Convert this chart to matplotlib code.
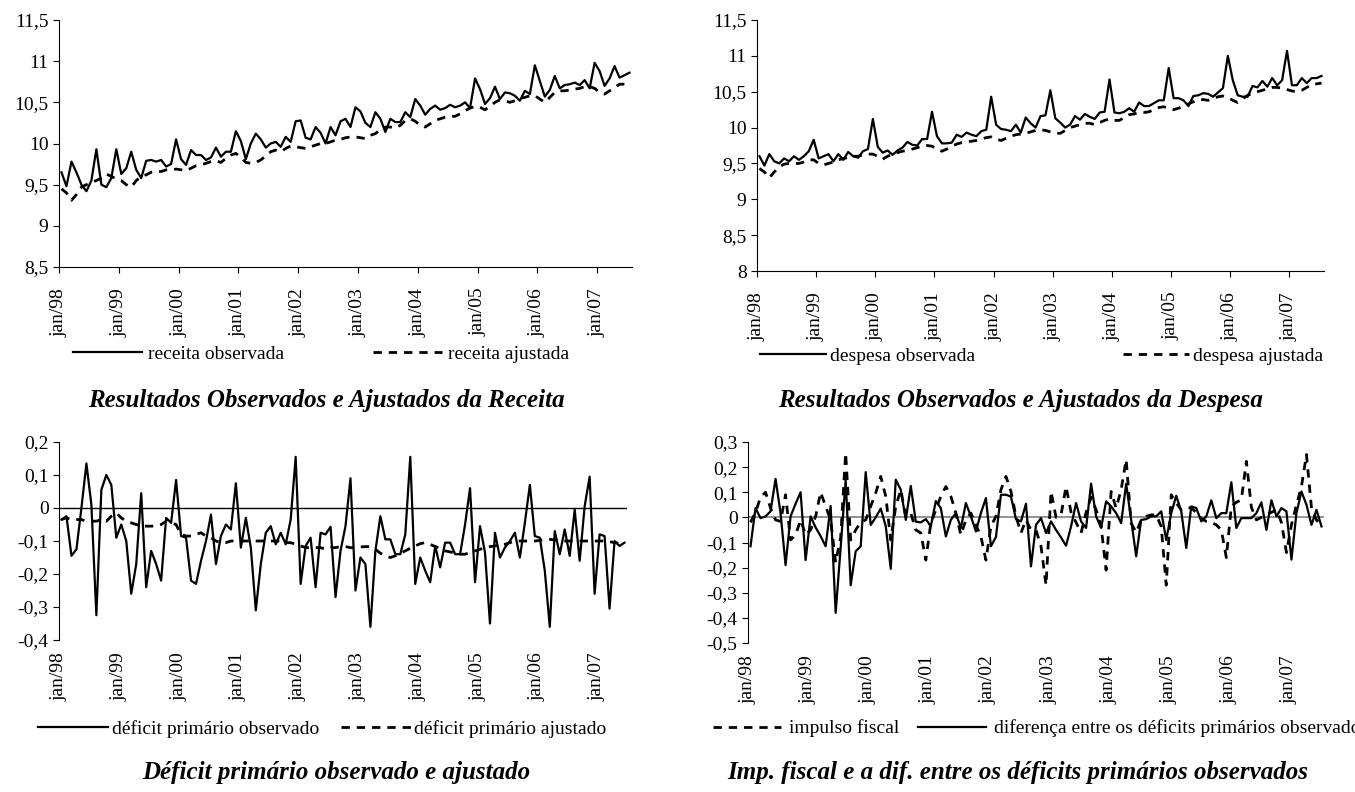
import matplotlib
matplotlib.use("Agg")
import matplotlib.pyplot as plt
import numpy as np
from matplotlib.ticker import FuncFormatter

plt.rcParams['font.family'] = ['Liberation Serif', 'DejaVu Serif']

tick_labels = ["jan/98", "jan/99", "jan/00", "jan/01", "jan/02",
               "jan/03", "jan/04", "jan/05", "jan/06", "jan/07"]

receita_obs = [9.65, 9.48, 9.78, 9.65, 9.50, 9.42, 9.55, 9.93, 9.50, 9.47, 9.58, 9.93,
               9.63, 9.70, 9.90, 9.68, 9.58, 9.79, 9.80, 9.78, 9.80, 9.72, 9.75, 10.05,
               9.81, 9.74, 9.92, 9.86, 9.86, 9.80, 9.83, 9.95, 9.84, 9.90, 9.90, 10.15,
               10.03, 9.81, 10.00, 10.12, 10.05, 9.95, 10.00, 10.02, 9.96, 10.08, 10.02, 10.27,
               10.28, 10.07, 10.05, 10.20, 10.13, 10.00, 10.20, 10.10, 10.27, 10.30, 10.20, 10.44,
               10.39, 10.25, 10.20, 10.38, 10.30, 10.14, 10.30, 10.26, 10.26, 10.38, 10.32, 10.54,
               10.46, 10.35, 10.42, 10.46, 10.41, 10.43, 10.47, 10.44, 10.46, 10.50, 10.43, 10.79,
               10.66, 10.48, 10.55, 10.69, 10.54, 10.62, 10.61, 10.58, 10.52, 10.64, 10.60, 10.95,
               10.76, 10.57, 10.65, 10.82, 10.67, 10.71, 10.72, 10.74, 10.71, 10.77, 10.67, 10.98,
               10.88, 10.70, 10.79, 10.94, 10.80, 10.83, 10.86]

receita_adj = [9.45, 9.40, 9.31, 9.38, 9.47, 9.50, 9.53, 9.55, 9.58, 9.63, 9.60, 9.57,
               9.55, 9.50, 9.47, 9.55, 9.60, 9.62, 9.65, 9.66, 9.66, 9.68, 9.68, 9.69,
               9.68, 9.67, 9.70, 9.73, 9.74, 9.76, 9.78, 9.79, 9.77, 9.82, 9.86, 9.88,
               9.83, 9.77, 9.76, 9.77, 9.80, 9.85, 9.90, 9.92, 9.90, 9.94, 9.97, 9.96,
               9.95, 9.94, 9.96, 9.98, 10.00, 10.00, 10.02, 10.04, 10.05, 10.07, 10.08, 10.08,
               10.07, 10.06, 10.10, 10.12, 10.17, 10.20, 10.20, 10.19, 10.22, 10.28, 10.30, 10.27,
               10.22, 10.20, 10.24, 10.28, 10.30, 10.32, 10.33, 10.33, 10.36, 10.40, 10.43, 10.45,
               10.44, 10.41, 10.45, 10.50, 10.53, 10.52, 10.50, 10.52, 10.55, 10.56, 10.58, 10.58,
               10.54, 10.50, 10.56, 10.62, 10.64, 10.64, 10.65, 10.66, 10.67, 10.69, 10.69, 10.67,
               10.62, 10.60, 10.64, 10.68, 10.72, 10.72, 10.72]

despesa_obs = [9.60, 9.47, 9.63, 9.53, 9.50, 9.57, 9.53, 9.60, 9.55, 9.60, 9.67, 9.83,
               9.57, 9.60, 9.63, 9.53, 9.63, 9.55, 9.66, 9.60, 9.58, 9.67, 9.70, 10.12,
               9.73, 9.65, 9.68, 9.62, 9.68, 9.72, 9.80, 9.76, 9.75, 9.84, 9.84, 10.22,
               9.88, 9.78, 9.78, 9.79, 9.90, 9.87, 9.93, 9.90, 9.88, 9.95, 9.97, 10.43,
               10.04, 9.98, 9.97, 9.95, 10.04, 9.93, 10.14, 10.06, 10.00, 10.16, 10.17, 10.52,
               10.13, 10.07, 10.00, 10.04, 10.16, 10.11, 10.19, 10.15, 10.12, 10.21, 10.22, 10.67,
               10.21, 10.20, 10.22, 10.27, 10.22, 10.35, 10.30, 10.30, 10.34, 10.38, 10.38, 10.83,
               10.41, 10.41, 10.38, 10.30, 10.44, 10.45, 10.48, 10.47, 10.43, 10.49, 10.55, 11.00,
               10.66, 10.45, 10.43, 10.43, 10.58, 10.56, 10.65, 10.57, 10.69, 10.59, 10.66, 11.07,
               10.59, 10.59, 10.69, 10.62, 10.69, 10.69, 10.72]

despesa_adj = [9.43, 9.38, 9.30, 9.38, 9.45, 9.49, 9.50, 9.50, 9.50, 9.52, 9.55, 9.55,
               9.50, 9.48, 9.50, 9.52, 9.55, 9.57, 9.58, 9.60, 9.60, 9.62, 9.63, 9.63,
               9.60, 9.56, 9.60, 9.63, 9.65, 9.67, 9.68, 9.70, 9.72, 9.74, 9.75, 9.74,
               9.70, 9.67, 9.70, 9.74, 9.77, 9.79, 9.80, 9.81, 9.82, 9.84, 9.86, 9.87,
               9.84, 9.82, 9.85, 9.88, 9.90, 9.91, 9.92, 9.94, 9.96, 9.97, 9.96, 9.94,
               9.92, 9.92, 9.96, 10.00, 10.02, 10.04, 10.06, 10.06, 10.04, 10.07, 10.10, 10.12,
               10.10, 10.10, 10.14, 10.18, 10.19, 10.21, 10.21, 10.22, 10.25, 10.28, 10.29, 10.27,
               10.25, 10.27, 10.30, 10.33, 10.36, 10.39, 10.39, 10.38, 10.40, 10.43, 10.44, 10.42,
               10.38, 10.35, 10.40, 10.45, 10.48, 10.50, 10.52, 10.54, 10.56, 10.56, 10.55, 10.53,
               10.51, 10.50, 10.52, 10.56, 10.60, 10.61, 10.62]

deficit_obs = [-0.035, -0.025, -0.145, -0.125, 0.0, 0.135, 0.01, -0.325, 0.055, 0.1, 0.07, -0.09,
               -0.05, -0.1, -0.26, -0.17, 0.045, -0.24, -0.13, -0.17, -0.22, -0.03, -0.045, 0.085,
               -0.085, -0.09, -0.22, -0.23, -0.16, -0.1, -0.02, -0.17, -0.085, -0.05, -0.065, 0.075,
               -0.12, -0.03, -0.12, -0.31, -0.17, -0.075, -0.055, -0.11, -0.075, -0.11, -0.035, 0.155,
               -0.23, -0.115, -0.09, -0.24, -0.075, -0.08,
               -0.057, -0.27, -0.13, -0.055, 0.09, -0.25, -0.15, -0.17, -0.36, -0.13, -0.025, -0.095,
               -0.095, -0.14, -0.14, -0.08, 0.155, -0.23, -0.15, -0.19, -0.225, -0.115, -0.18, -0.105,
               -0.105, -0.14, -0.14, -0.05, 0.06, -0.225, -0.055, -0.135, -0.35, -0.075, -0.15, -0.12,
               -0.1, -0.075, -0.15, -0.045, 0.07, -0.085, -0.09, -0.19, -0.36, -0.07, -0.14, -0.065,
               -0.145, -0.005, -0.16, 0.005, 0.095, -0.26, -0.08, -0.085, -0.305, -0.1, -0.115, -0.105]

deficit_adj = [-0.035, -0.03, -0.035, -0.035, -0.035, -0.04, -0.04, -0.04, -0.035, -0.04, -0.025, -0.015,
               -0.03, -0.04, -0.045, -0.05, -0.055, -0.055, -0.055, -0.055, -0.05, -0.04, -0.045, -0.05,
               -0.08, -0.085, -0.085, -0.08, -0.075, -0.085, -0.09, -0.1, -0.105, -0.105, -0.1, -0.1,
               -0.1, -0.1, -0.1, -0.1, -0.1, -0.1, -0.1, -0.1, -0.1, -0.105, -0.105, -0.11,
               -0.115, -0.12, -0.12, -0.12, -0.12, -0.125, -0.12, -0.12, -0.117, -0.117, -0.12, -0.12,
               -0.118, -0.117, -0.117, -0.125, -0.137, -0.145, -0.15, -0.145, -0.137, -0.13, -0.122, -0.115,
               -0.108, -0.105, -0.11, -0.117, -0.122, -0.13, -0.133, -0.137, -0.14, -0.14, -0.135, -0.13,
               -0.125, -0.12, -0.117, -0.115, -0.112, -0.11, -0.105, -0.1, -0.1, -0.1, -0.1, -0.1,
               -0.098, -0.095, -0.095, -0.097, -0.1, -0.1, -0.1, -0.1, -0.1, -0.1, -0.1, -0.1,
               -0.1, -0.1, -0.102, -0.105, -0.107, -0.107]

impulso = [-0.02, 0.02, 0.08, 0.1, 0.037, -0.01, -0.016, 0.09, -0.09, -0.07, -0.01, -0.07,
           -0.05, 0.004, 0.1, 0.044, -0.01, -0.18, -0.08, 0.256, -0.09, -0.05, -0.02, -0.01,
           0.044, 0.097, 0.163, 0.084, -0.09, 0.044, 0.11, 0.004, 0.017, -0.05, -0.062, -0.17,
           -0.023, 0.03, 0.084, 0.123, 0.084, 0.017, -0.07, -0.01, 0.017, -0.03, -0.076, -0.17,
           -0.036, 0.004, 0.11, 0.163, 0.103, 0.004, -0.062, -0.01, -0.05, -0.05, -0.115, -0.27,
           0.103, 0.0, 0.01, 0.123, 0.02, -0.02, -0.062, 0.02, 0.08, 0.03, -0.036, -0.21,
           0.103, 0.037, 0.11, 0.23, -0.023, -0.06, -0.01, 0.004, 0.01, 0.01, -0.036, -0.27,
           0.09, 0.057, 0.03, 0.04, 0.037, 0.02, -0.005, -0.016, -0.02, -0.03, -0.05, -0.16,
           0.044, 0.06, 0.07, 0.223, 0.04, -0.01, 0.0, 0.01, 0.02, 0.03, -0.02, -0.14,
           -0.03, 0.05, 0.123, 0.25, 0.037, -0.01, -0.036]

diferenca = [-0.115, 0.037, -0.003, 0.004, 0.024, 0.153, 0.017, -0.19, 0.004, 0.054, 0.1, -0.17,
             0.004, -0.04, -0.075, -0.115, 0.045, -0.38, -0.12, 0.15, -0.27, -0.135, -0.115, 0.18,
             -0.03, 0.0, 0.035, -0.035, -0.205, 0.15, 0.11, -0.01, 0.125, -0.017, -0.02, -0.007,
             -0.036, 0.065, 0.037, -0.076, -0.01, 0.017, -0.042, 0.057, 0.004, -0.056, 0.017, 0.077,
             -0.115, -0.078, 0.09, 0.09, 0.083, -0.007, -0.016, 0.054, -0.195, -0.03, -0.003, -0.062,
             -0.016, -0.05, -0.08, -0.113, -0.036, 0.057, -0.016, -0.042, 0.134, 0.004, -0.042, 0.064,
             0.044, 0.017, -0.023, 0.134, -0.01, -0.155, -0.01, -0.007, 0.004, 0.004, 0.024, -0.09,
             0.017, 0.086, 0.024, -0.122, 0.044, 0.037, -0.016, 0.004, 0.068, -0.003, 0.017, 0.017,
             0.14, -0.042, -0.003, -0.003, -0.003, 0.017, 0.06, -0.05, 0.068, 0.004, 0.037, 0.024,
             -0.168, 0.017, 0.103, 0.05, -0.03, 0.03, -0.036]

W, H = 1355, 792
fig = plt.figure(figsize=(W / 100, H / 100), dpi=100)


def box(l, r, t, b):
    return [l / W, 1 - b / H, (r - l) / W, (b - t) / H]


def comma(v, pos):
    v = round(v, 2)
    if v == 0:
        v = 0.0
    return "{:g}".format(v).replace(".", ",")


def setup(ax, ylim, yticks, n, zero_axis=False):
    ax.set_xlim(0, n)
    ax.set_ylim(ylim)
    ax.set_yticks(yticks)
    ax.yaxis.set_major_formatter(FuncFormatter(comma))
    ax.set_xticks(np.arange(0, 109, 12))
    ax.set_xticklabels(tick_labels, rotation=90)
    for s in ["top", "right"]:
        ax.spines[s].set_visible(False)
    ax.tick_params(axis="both", direction="out", length=4, width=0.8, labelsize=14)
    ax.tick_params(axis="x", pad=11)
    if zero_axis:
        ax.spines["bottom"].set_visible(False)
        ax.tick_params(axis="x", length=0, pad=9)


dash = (0, (3, 2.5))
leg_kw = dict(loc="center left", ncol=2, frameon=False, fontsize=14,
              borderpad=0, borderaxespad=0)

# receita
ax1 = fig.add_axes(box(59, 632, 20, 267))
x = np.arange(len(receita_obs)) + 0.5
l1, = ax1.plot(x, receita_obs, color="black", lw=1.6)
l2, = ax1.plot(x, receita_adj, color="black", lw=2, linestyle=dash)
setup(ax1, (8.5, 11.5), [8.5, 9, 9.5, 10, 10.5, 11, 11.5], len(receita_obs))
ax1.legend([l1, l2], ["receita observada", "receita ajustada"],
           bbox_to_anchor=(0.024, -0.352), handlelength=3.55, handletextpad=0.3,
           columnspacing=4.6, **leg_kw)

# despesa
ax2 = fig.add_axes(box(757, 1324, 20, 271))
x = np.arange(len(despesa_obs)) + 0.5
l1, = ax2.plot(x, despesa_obs, color="black", lw=1.6)
l2, = ax2.plot(x, despesa_adj, color="black", lw=2, linestyle=dash)
setup(ax2, (8, 11.5), [8, 8.5, 9, 9.5, 10, 10.5, 11, 11.5], len(despesa_obs))
ax2.legend([l1, l2], ["despesa observada", "despesa ajustada"],
           bbox_to_anchor=(0.005, -0.339), handlelength=3.4, handletextpad=0.2,
           columnspacing=7.6, **leg_kw)

# deficit
ax3 = fig.add_axes(box(59, 627, 442, 640))
x = np.arange(len(deficit_obs)) + 0.5
ax3.axhline(0, color="black", lw=1)
l1, = ax3.plot(x, deficit_obs, color="black", lw=1.6)
l2, = ax3.plot(x, deficit_adj, color="black", lw=2, linestyle=dash)
setup(ax3, (-0.4, 0.2), [-0.4, -0.3, -0.2, -0.1, 0, 0.1, 0.2], len(deficit_obs), zero_axis=True)
ax3.legend([l1, l2], ["déficit primário observado", "déficit primário ajustado"],
           bbox_to_anchor=(-0.037, -0.45), handlelength=3.6, handletextpad=0.2,
           columnspacing=1.1, **leg_kw)

# impulso fiscal
ax4 = fig.add_axes(box(748, 1324, 442, 643))
x = np.arange(len(impulso)) + 0.5
ax4.axhline(0, color="#808080", lw=1.2)
l1, = ax4.plot(x, impulso, color="black", lw=2, linestyle=dash)
l2, = ax4.plot(x, diferenca, color="black", lw=1.6)
setup(ax4, (-0.5, 0.3), [-0.5, -0.4, -0.3, -0.2, -0.1, 0, 0.1, 0.2, 0.3], len(impulso), zero_axis=True)
ax4.legend([l1, l2], ["impulso fiscal", "diferença entre os déficits primários observados"],
           bbox_to_anchor=(-0.061, -0.425), handlelength=3.5, handletextpad=0.4,
           columnspacing=1.0, **leg_kw)

title_kw = dict(ha="center", va="center", fontsize=18, fontweight="bold", style="italic")
fig.text(326 / W, 1 - 401 / H, "Resultados Observados e Ajustados da Receita", **title_kw)
fig.text(1020 / W, 1 - 401 / H, "Resultados Observados e Ajustados da Despesa", **title_kw)
fig.text(336 / W, 1 - 773 / H, "Déficit primário observado e ajustado", **title_kw)
fig.text(1018 / W, 1 - 773 / H, "Imp. fiscal e a dif. entre os déficits primários observados", **title_kw)

fig.savefig("out.png", dpi=100)
